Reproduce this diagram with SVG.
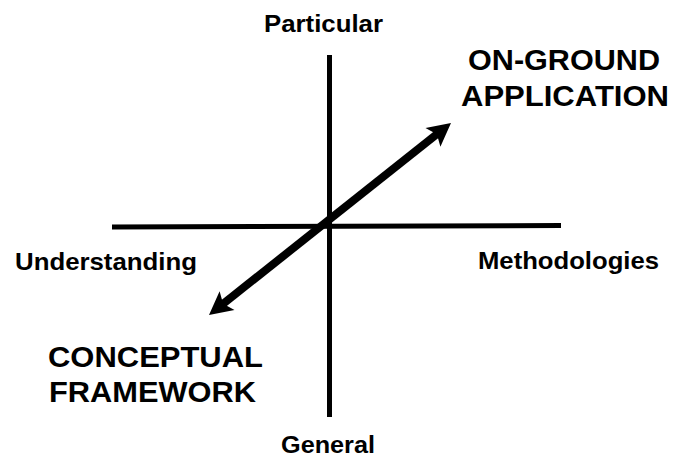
<svg xmlns="http://www.w3.org/2000/svg" width="682" height="458" viewBox="0 0 682 458">
<style>
.axis{stroke:#000;stroke-width:5;fill:none}
.arrow{stroke:#000;stroke-width:8;fill:none}
.head{fill:#000;stroke:none}
.lbl{font-family:"Liberation Sans",Arial,sans-serif;font-weight:bold;fill:#000}
.sm{font-size:24px}
.big{font-size:29px}
</style>
<rect width="682" height="458" fill="#fff"/>
<g id="connectors">
<line class="axis" x1="329.5" y1="55" x2="329.5" y2="417"/>
<line class="axis" x1="112" y1="227" x2="561" y2="225.5"/>
<line class="arrow" x1="221.5" y1="305.1" x2="438.5" y2="132.9"/>
<polygon class="head" points="451,123 425.5,127.9 436.9,134.2 440.4,146.7"/>
<polygon class="head" points="209,315 234.5,310.1 223.1,303.8 219.6,291.3"/>
</g>
<g id="particular"><text class="lbl sm" x="264" y="32" textLength="119" lengthAdjust="spacingAndGlyphs">Particular</text></g>
<g id="general"><text class="lbl sm" x="281" y="453" textLength="94" lengthAdjust="spacingAndGlyphs">General</text></g>
<g id="understanding"><text class="lbl sm" x="15" y="270" textLength="182" lengthAdjust="spacingAndGlyphs">Understanding</text></g>
<g id="methodologies"><text class="lbl sm" x="478" y="269" textLength="181" lengthAdjust="spacingAndGlyphs">Methodologies</text></g>
<g id="on-ground">
<text class="lbl big" x="468" y="70" textLength="192" lengthAdjust="spacingAndGlyphs">ON-GROUND</text>
<text class="lbl big" x="461" y="106" textLength="208" lengthAdjust="spacingAndGlyphs">APPLICATION</text>
</g>
<g id="conceptual">
<text class="lbl big" x="48" y="367" textLength="215" lengthAdjust="spacingAndGlyphs">CONCEPTUAL</text>
<text class="lbl big" x="49" y="402" textLength="207" lengthAdjust="spacingAndGlyphs">FRAMEWORK</text>
</g>
</svg>
